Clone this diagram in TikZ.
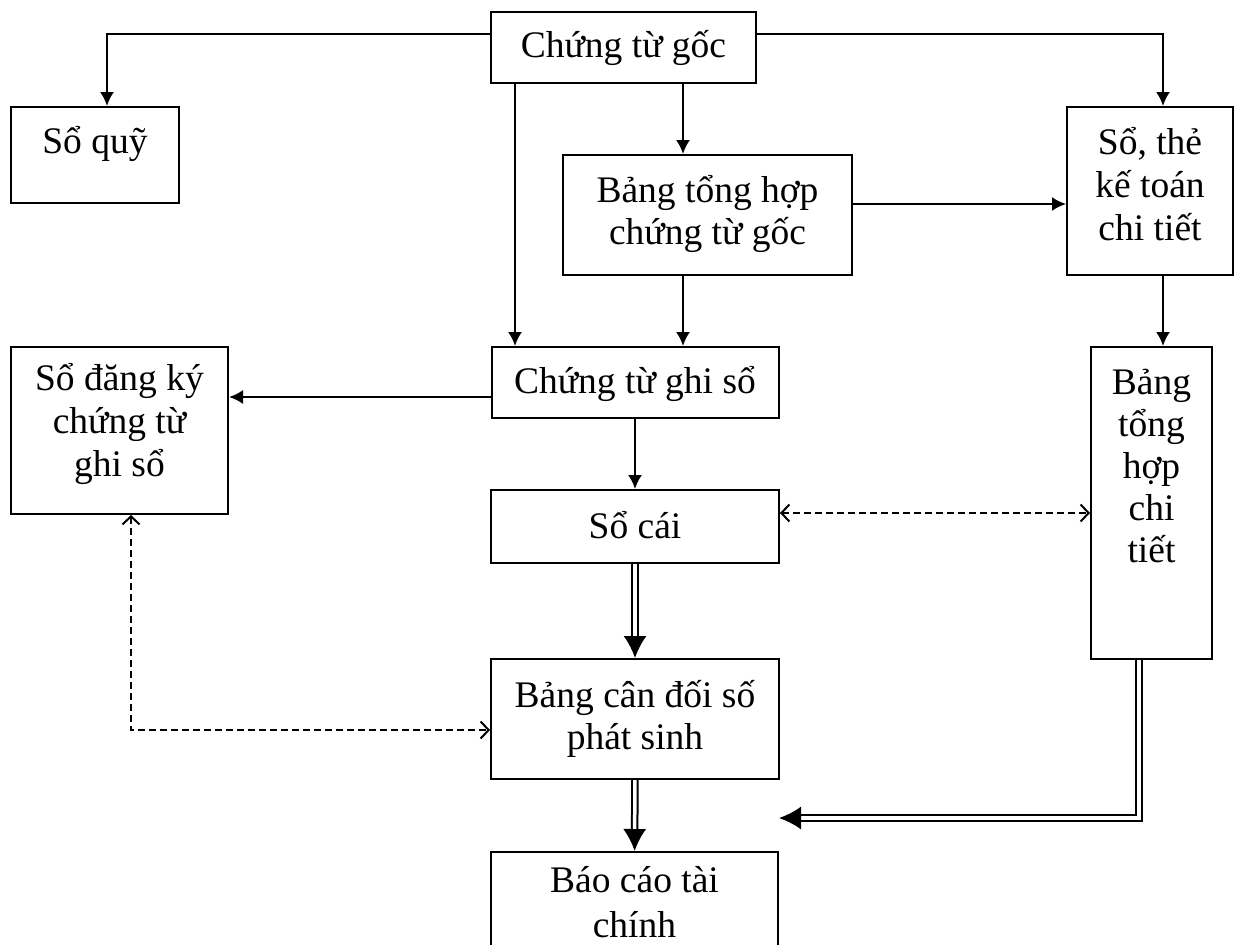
\documentclass[tikz,border=0pt]{standalone}
\usepackage{fontspec}
\setmainfont{Liberation Serif}
\usetikzlibrary{arrows.meta}
\begin{document}
\begin{tikzpicture}[x=1pt,y=-1pt,
    box/.style={draw, line width=2pt, inner sep=0pt, align=center},
    fs/.style={font=\fontsize{37.5}{#1}\selectfont},
    arr/.style={line width=2pt, -{Latex[length=14pt,width=14pt]}},
    dbl/.style={double, double distance=3.5pt, line width=2pt, -{Latex[length=22pt,width=23pt]}},
    dsh/.style={line width=2pt, dash pattern=on 7pt off 4pt, {Straight Barb[length=8pt,width=17pt]}-{Straight Barb[length=8pt,width=17pt]}}]
    \useasboundingbox (0,0) rectangle (1235,945);
    \node[box, fs=42, minimum width=265pt, minimum height=71pt, text height=30pt, text depth=10pt] at (623.5, 47.5) (goc) {Chứng từ gốc};
    \node[box, fs=42, minimum width=168pt, minimum height=96pt, text height=30pt, text depth=34pt] at (95, 155) (quy) {Sổ quỹ};
    \node[box, fs=42, minimum width=289pt, minimum height=120pt, text height=68pt, text depth=10pt] at (707.5, 215) (thgoc) {Bảng tổng hợp\\chứng từ gốc};
    \node[box, fs=43, minimum width=166pt, minimum height=168pt, text height=108pt, text depth=10pt] at (1150, 191) (ctiet) {Sổ, thẻ\\kế toán\\chi tiết};
    \node[box, fs=43, minimum width=217pt, minimum height=167pt, text height=101pt, text depth=10pt] at (119.5, 430.5) (dk) {Sổ đăng ký\\chứng từ\\ghi sổ};
    \node[box, fs=42, minimum width=287pt, minimum height=71pt, text height=30pt, text depth=8pt] at (635, 382.5) (ghiso) {Chứng từ ghi sổ};
    \node[box, fs=42, minimum width=121pt, minimum height=312pt, text height=128pt, text depth=10pt] at (1151.5, 503) (thct) {Bảng\\tổng\\hợp\\chi\\tiết};
    \node[box, fs=42, minimum width=288pt, minimum height=73pt, text height=30pt, text depth=7pt] at (635, 526.5) (socai) {Sổ cái};
    \node[box, fs=42, minimum width=288pt, minimum height=120pt, text height=71pt, text depth=10pt] at (635, 719) (cdps) {Bảng cân đối số\\phát sinh};
    \node[box, fs=45, minimum width=287pt, minimum height=108pt, text height=72pt, text depth=10pt] at (634.5, 906) (bctc) {Báo cáo tài\\chính};
    % helper points for the connectors
    \coordinate (c1) at (515, 34);
    \coordinate (c2) at (683, 204);
    \coordinate (c3) at (1163, 397);
    \coordinate (c4) at (131, 730);
    \coordinate (c5) at (1139, 818);
    \coordinate (c6) at (107, 513);
    \draw[arr] (goc.west |- c1) -| (quy.north -| c6);
    \draw[arr] (goc.east |- c1) -| (ctiet.north -| c3);
    \draw[arr] (goc.south -| c1) -- (ghiso.north -| c1);
    \draw[arr] (goc.south -| c2) -- (thgoc.north -| c2);
    \draw[arr] (thgoc.south -| c2) -- (ghiso.north -| c2);
    \draw[arr] (thgoc.east |- c2) -- (ctiet.west |- c2);
    \draw[arr] (ghiso.west |- c3) -- (dk.east |- c3);
    \draw[arr] (ghiso) -- (socai);
    \draw[arr] (ctiet.south -| c3) -- (thct.north -| c3);
    \draw[dsh] (socai.east |- c6) -- (thct.west |- c6);
    \draw[dsh] (dk.south -| c4) |- (cdps.west |- c4);
    \draw[dbl] (socai) -- (cdps);
    \draw[dbl] (cdps) -- (bctc);
    \draw[dbl] (thct.south -| c5) |- (bctc.east |- c5);
\end{tikzpicture}
\end{document}
